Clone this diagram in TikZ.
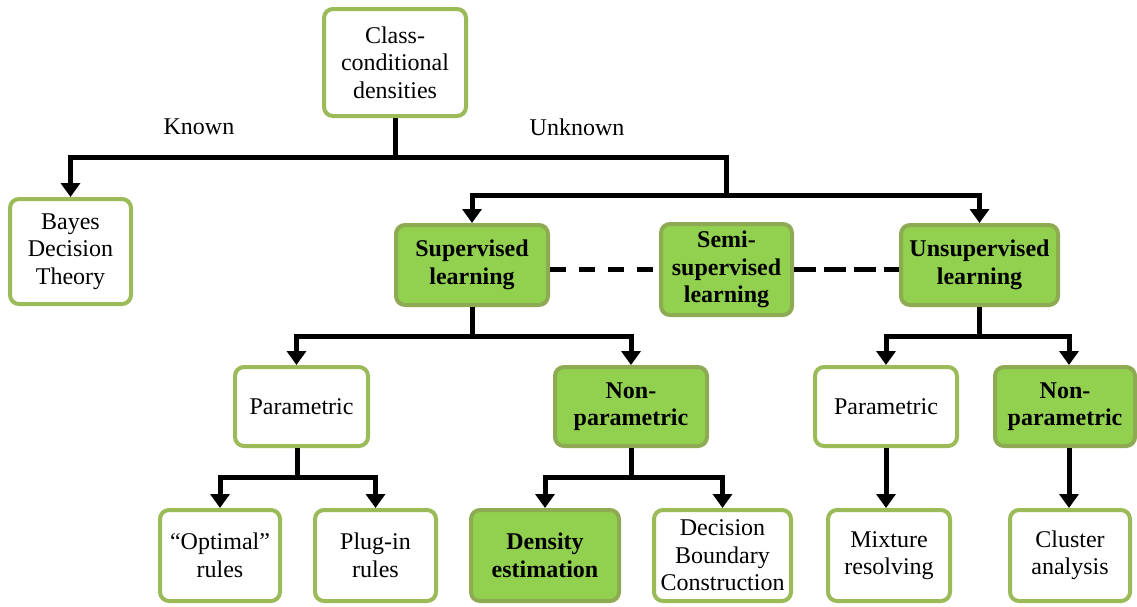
\documentclass[tikz,border=0pt]{standalone}
\usepackage{fontspec}
\setmainfont{Liberation Serif}
\usetikzlibrary{arrows.meta}

\definecolor{leaf}{HTML}{92D050}
\definecolor{olive}{HTML}{9BBB59}
\definecolor{oliveDark}{HTML}{8EAA52}

\tikzset{
  txt/.style={font=\fontsize{24}{27.5}\selectfont, align=center},
  plainbox/.style={txt, rectangle, rounded corners=9pt, draw=olive, line width=4pt,
    fill=white, inner sep=0pt},
  greenbox/.style={plainbox, draw=oliveDark, fill=leaf, font=\fontsize{24}{27.5}\selectfont\bfseries},
  wire/.style={line width=5pt, draw=black},
  arr/.style={wire, -{Triangle[width=19pt,length=14pt]}},
}

\begin{document}
\begin{tikzpicture}[x=1pt, y=-1pt]
\useasboundingbox (0,0) rectangle (1137,606);

% level lines of the tree
\coordinate (l1) at (0,157);
\coordinate (l2) at (0,195);
\coordinate (l3) at (0,336);
\coordinate (l4) at (0,477);

% boxes
\node[plainbox, minimum width=142pt, minimum height=107pt] (top)   at (395,62.5)  {Class-\\conditional\\densities};
\node[plainbox, minimum width=121pt, minimum height=105pt] (bayes) at (70.5,251.5) {Bayes\\Decision\\Theory};

\node[greenbox, minimum width=152pt, minimum height=80pt] (sup)   at (472,265)   {Supervised\\learning};
\node[greenbox, minimum width=131pt, minimum height=91pt] (semi)  at (726.5,269.5) {Semi-\\supervised\\learning};
\node[greenbox, minimum width=157pt, minimum height=80pt] (unsup) at (979.5,265) {Unsupervised\\learning};

\node[plainbox, minimum width=133pt, minimum height=79pt] (par1) at (301.5,406.5) {Parametric};
\node[greenbox, minimum width=152pt, minimum height=79pt] (non1) at (631,406.5)   {Non-\\parametric};
\node[plainbox, minimum width=142pt, minimum height=79pt] (par2) at (886,406.5)   {Parametric};
\node[greenbox, minimum width=140pt, minimum height=79pt] (non2) at (1065,406.5)  {Non-\\parametric};

\node[plainbox, minimum width=120pt, minimum height=91pt] (opt)  at (220,555.5)   {“Optimal”\\rules};
\node[plainbox, minimum width=121pt, minimum height=91pt] (plug) at (375.5,555.5) {Plug-in\\rules};
\node[greenbox, minimum width=148pt, minimum height=91pt] (dens) at (545,555.5)   {Density\\estimation};
\node[plainbox, minimum width=137pt, minimum height=91pt] (dec)  at (722.5,555.5) {Decision\\Boundary\\Construction};
\node[plainbox, minimum width=122pt, minimum height=91pt] (mix)  at (889,555.5)   {Mixture\\resolving};
\node[plainbox, minimum width=120pt, minimum height=91pt] (clu)  at (1070,555.5)  {Cluster\\analysis};

% branch labels
\node[txt] (known)   at (199,127) {Known};
\node[txt] (unknown) at (577,127) {Unknown};

% connectors
\draw[arr]  (top.south) -- (top.south |- l1) -| (bayes.north);
\draw[wire] (top.south |- l1) -| (semi.north |- l2);
\draw[arr]  (semi.north |- l2) -| (sup.north);
\draw[arr]  (semi.north |- l2) -| (unsup.north);

\draw[wire] (sup.south) -- (sup.south |- l3);
\draw[arr]  (sup.south |- l3) -| ([xshift=-5pt]par1.north);
\draw[arr]  (sup.south |- l3) -| (non1.north);

\draw[wire] (unsup.south) -- (unsup.south |- l3);
\draw[arr]  (unsup.south |- l3) -| (par2.north);
\draw[arr]  (unsup.south |- l3) -| ([xshift=4pt]non2.north);

\draw[wire] ([xshift=-4pt]par1.south) -- ([xshift=-4pt]par1.south |- l4);
\draw[arr]  ([xshift=-4pt]par1.south |- l4) -| (opt.north);
\draw[arr]  ([xshift=-4pt]par1.south |- l4) -| (plug.north);

\draw[wire] (non1.south) -- (non1.south |- l4);
\draw[arr]  (non1.south |- l4) -| (dens.north);
\draw[arr]  (non1.south |- l4) -| (dec.north);

\draw[arr]  (par2.south) -- (par2.south |- mix.north);
\draw[arr]  ([xshift=4pt]non2.south) -- ([xshift=4pt]non2.south |- clu.north);

% dashed links to the semi-supervised box
\draw[wire, dash pattern=on 16pt off 13pt] (sup.east |- semi.west) -- (semi.west);
\draw[wire, dash pattern=on 22pt off 8pt] (semi.east) -- (unsup.west |- semi.east);
\end{tikzpicture}
\end{document}
